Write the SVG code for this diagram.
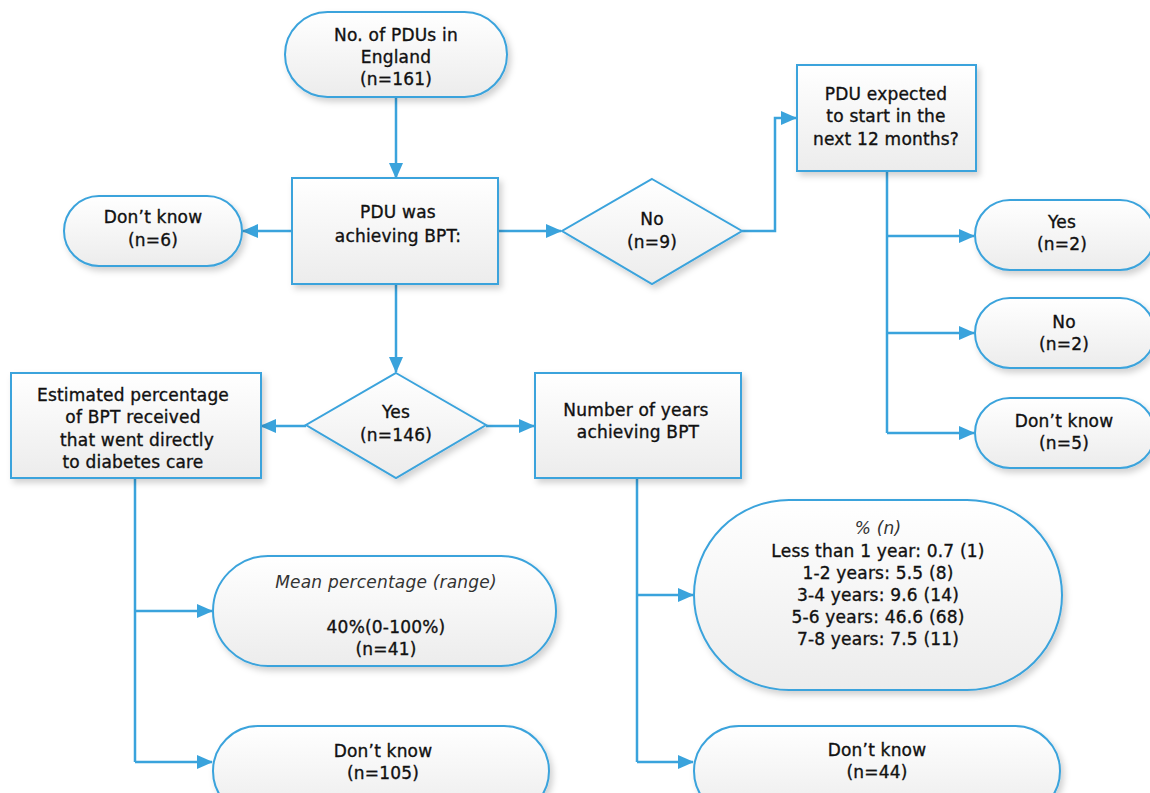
<svg xmlns="http://www.w3.org/2000/svg" width="1150" height="793" viewBox="0 0 1150 793">
<defs>
<linearGradient id="g" x1="0" y1="0" x2="0" y2="1">
<stop offset="0" stop-color="#ffffff"/>
<stop offset="1" stop-color="#ececec"/>
</linearGradient>
<filter id="sh" x="-10%" y="-10%" width="130%" height="140%">
<feDropShadow dx="3" dy="4" stdDeviation="3" flood-color="#000" flood-opacity="0.18"/>
</filter>
<marker id="ah" viewBox="0 0 16 14" refX="15" refY="7" markerWidth="16" markerHeight="14" markerUnits="userSpaceOnUse" orient="auto">
<path d="M0,0 L16,7 L0,14 z" fill="#3aa3dc"/>
</marker>
<style>
.n{fill:url(#g);stroke:#3aa3dc;stroke-width:2;filter:url(#sh)}
.t{font-family:"DejaVu Sans","Noto Sans",sans-serif;font-size:17px;letter-spacing:0.2px;fill:#111;stroke:#111;stroke-width:0.35px;text-anchor:middle}
.i{font-style:italic;fill:#333;stroke:none}
.c{fill:none;stroke:#3aa3dc;stroke-width:2.5}
.a{marker-end:url(#ah)}
</style>
</defs>
<g id="connectors">
<path class="c a" d="M396,97 V178"/>
<path class="c a" d="M292,231 H243"/>
<path class="c a" d="M498,231 H561"/>
<path class="c a" d="M742,231 H775 V118 H796"/>
<path class="c" d="M887,171 V433"/>
<path class="c a" d="M887,236 H974"/>
<path class="c a" d="M887,333 H974"/>
<path class="c a" d="M887,433 H974"/>
<path class="c a" d="M396,284 V372"/>
<path class="c a" d="M306,426 H261"/>
<path class="c a" d="M486,426 H534"/>
<path class="c" d="M135,478 V762"/>
<path class="c a" d="M135,611 H212"/>
<path class="c a" d="M135,762 H212"/>
<path class="c" d="M637,478 V762"/>
<path class="c a" d="M637,595 H693"/>
<path class="c a" d="M637,762 H693"/>
</g>
<g id="n-total">
<rect class="n" x="285" y="12" width="222" height="85" rx="42.5"/>
<text class="t" x="396" y="41">No. of PDUs in</text>
<text class="t" x="396" y="63">England</text>
<text class="t" x="396" y="85">(n=161)</text>
</g>
<g id="n-achieving">
<rect class="n" x="292" y="178" width="206" height="106"/>
<text class="t" x="398" y="218">PDU was</text>
<text class="t" x="398" y="242">achieving BPT:</text>
</g>
<g id="n-dk6">
<rect class="n" x="64" y="196" width="178" height="70" rx="35"/>
<text class="t" x="153" y="223">Don’t know</text>
<text class="t" x="153" y="246">(n=6)</text>
</g>
<g id="n-no9">
<polygon class="n" points="652,179 742,231 652,284 562,231"/>
<text class="t" x="652" y="225">No</text>
<text class="t" x="652" y="248">(n=9)</text>
</g>
<g id="n-expected">
<rect class="n" x="797" y="65" width="179" height="106"/>
<text class="t" x="886" y="100">PDU expected</text>
<text class="t" x="886" y="122">to start in the</text>
<text class="t" x="886" y="145">next 12 months?</text>
</g>
<g id="n-yes2">
<rect class="n" x="975" y="200" width="180" height="70" rx="35"/>
<text class="t" x="1062" y="228">Yes</text>
<text class="t" x="1062" y="250">(n=2)</text>
</g>
<g id="n-no2">
<rect class="n" x="975" y="298" width="180" height="70" rx="35"/>
<text class="t" x="1064" y="328">No</text>
<text class="t" x="1064" y="350">(n=2)</text>
</g>
<g id="n-dk5">
<rect class="n" x="975" y="398" width="180" height="70" rx="35"/>
<text class="t" x="1064" y="427">Don’t know</text>
<text class="t" x="1064" y="449">(n=5)</text>
</g>
<g id="n-yes146">
<polygon class="n" points="396,373 486,425 396,478 306,425"/>
<text class="t" x="396" y="418">Yes</text>
<text class="t" x="396" y="441">(n=146)</text>
</g>
<g id="n-estimated">
<rect class="n" x="11" y="373" width="250" height="105"/>
<text class="t" x="133" y="401">Estimated percentage</text>
<text class="t" x="133" y="423">of BPT received</text>
<text class="t" x="137" y="446">that went directly</text>
<text class="t" x="133" y="468">to diabetes care</text>
</g>
<g id="n-years">
<rect class="n" x="535" y="373" width="206" height="105"/>
<text class="t" x="636" y="416">Number of years</text>
<text class="t" x="638" y="438">achieving BPT</text>
</g>
<g id="n-mean">
<rect class="n" x="213" y="556" width="343" height="110" rx="55"/>
<text class="t i" x="386" y="588">Mean percentage (range)</text>
<text class="t" x="386" y="633">40%(0-100%)</text>
<text class="t" x="386" y="655">(n=41)</text>
</g>
<g id="n-dk105">
<rect class="n" x="213" y="726" width="336" height="90" rx="45"/>
<text class="t" x="383" y="757">Don’t know</text>
<text class="t" x="383" y="779">(n=105)</text>
</g>
<g id="n-yearsdist">
<rect class="n" x="694" y="500" width="368" height="190" rx="95"/>
<text class="t i" x="878" y="534">% (n)</text>
<text class="t" x="878" y="557">Less than 1 year: 0.7 (1)</text>
<text class="t" x="878" y="579">1-2 years: 5.5 (8)</text>
<text class="t" x="878" y="601">3-4 years: 9.6 (14)</text>
<text class="t" x="878" y="623">5-6 years: 46.6 (68)</text>
<text class="t" x="878" y="645">7-8 years: 7.5 (11)</text>
</g>
<g id="n-dk44">
<rect class="n" x="694" y="726" width="366" height="90" rx="45"/>
<text class="t" x="877" y="756">Don’t know</text>
<text class="t" x="877" y="778">(n=44)</text>
</g>
</svg>
